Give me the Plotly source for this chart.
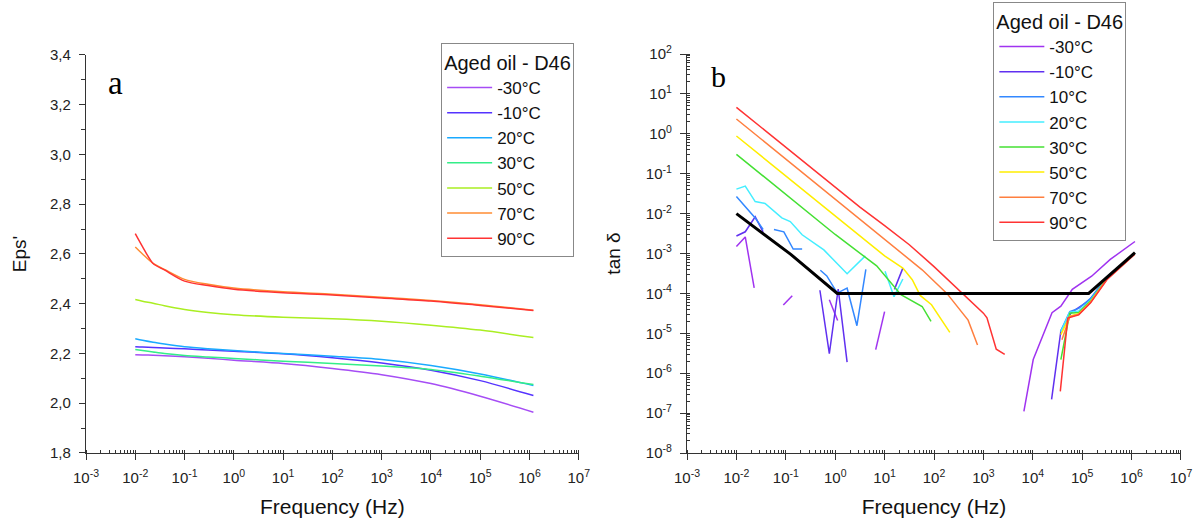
import plotly.graph_objects as go

# ---------------- Panel a : Eps' ----------------
freq_a = [0.01, 0.014, 0.023, 0.039, 0.1, 0.3, 1, 10, 100, 1e3, 1e4, 1e5, 1.2e6]
eps_m30 = [2.195, 2.194, 2.193, 2.191, 2.187, 2.181, 2.173, 2.160, 2.140, 2.115, 2.079, 2.028, 1.964]
eps_m10 = [2.227, 2.226, 2.224, 2.222, 2.219, 2.214, 2.209, 2.199, 2.183, 2.162, 2.133, 2.091, 2.031]
eps_20 = [2.259, 2.253, 2.245, 2.238, 2.227, 2.219, 2.212, 2.200, 2.189, 2.176, 2.152, 2.118, 2.071]
eps_30 = [2.216, 2.212, 2.206, 2.200, 2.192, 2.186, 2.180, 2.169, 2.160, 2.150, 2.136, 2.109, 2.075]
eps_50 = [2.417, 2.410, 2.402, 2.392, 2.377, 2.365, 2.356, 2.346, 2.340, 2.330, 2.314, 2.294, 2.264]
eps_70 = [2.628, 2.600, 2.562, 2.538, 2.498, 2.478, 2.463, 2.448, 2.438, 2.426, 2.413, 2.396, 2.374]
eps_90 = [2.682, 2.630, 2.562, 2.536, 2.491, 2.473, 2.458, 2.444, 2.435, 2.423, 2.411, 2.393, 2.373]
labels_a = ["-30°C", "-10°C", "20°C", "30°C", "50°C", "70°C", "90°C"]
colors_a = ["#A64DF5", "#5533FF", "#1AAAFF", "#33EE88", "#AAEE22", "#FF8C33", "#FF3333"]
series_a = [eps_m30, eps_m10, eps_20, eps_30, eps_50, eps_70, eps_90]

# ---------------- Panel b : tan delta ----------------
# None separates the broken pieces of a curve
f_m30 = [0.01, 0.0151, 0.0229, None, 0.089, 0.135, None, 0.76, 1.12, None, 6.6, 10.0, None,
         6600, 10200, 24500, 37000, 63000, 1.55e5, 3.7e5, 1.17e6]
t_m30 = [1.5e-3, 2.6e-3, 1.38e-4, None, 5.1e-5, 8.7e-5, None, 6.9e-5, 2.1e-5, None, 3.9e-6, 3.5e-5, None,
         1.1e-7, 2.2e-6, 3.3e-5, 4.8e-5, 1.26e-4, 2.7e-4, 7.1e-4, 2.0e-3]
f_m10 = [0.01, 0.0151, 0.024, 0.0347, None, 0.49, 0.76, 1.15, 1.74, None, 15.8, 23.4, None,
         24000, 37000, 60000, 1.35e5, 3.16e5, 1.15e6]
t_m10 = [2.75e-3, 3.5e-3, 8.3e-3, 3.5e-3, None, 1.2e-4, 3.1e-6, 1.29e-4, 1.9e-6, None, 1.26e-4, 4.3e-4, None,
         2.2e-7, 1.15e-5, 3.3e-5, 6.5e-5, 2.4e-4, 1.0e-3]
f_10 = [0.01, 0.024, 0.0347, None, 0.0575, 0.0912, 0.141, 0.214, None, 0.50, 0.676, 1.10, 1.74, 2.75, 4.17, None,
        36300, 56000, 85000, 1.48e5, 3.16e5, 1.15e6]
t_10 = [0.027, 7.8e-3, 4.0e-3, None, 4.0e-3, 3.5e-3, 1.29e-3, 1.29e-3, None, 3.8e-4, 2.75e-4, 1.02e-4, 1.35e-4, 1.55e-5, 4.0e-4, None,
        1.1e-5, 3.5e-5, 4.2e-5, 7.5e-5, 2.6e-4, 1.0e-3]
f_20 = [0.01, 0.0151, 0.024, 0.038, 0.083, 0.123, 0.214, 0.589, 1.74, 4.07, None, 10.2, 15.5, 23.4, None,
        37000, 56000, 85000, 1.48e5, 3.16e5, 1.15e6]
t_20 = [0.041, 0.049, 0.020, 0.018, 7.8e-3, 6.3e-3, 2.95e-3, 1.23e-3, 3.1e-4, 8.7e-4, None, 3.6e-4, 8.3e-5, 2.3e-4, None,
        1.1e-5, 3.4e-5, 3.6e-5, 6.8e-5, 2.4e-4, 1.0e-3]
f_30 = [0.01, 0.1, 1, 6.9, 21.4, 57.5, 87, None, 37000, 56000, 85000, 1.48e5, 3.16e5, 1.15e6]
t_30 = [0.306, 0.030, 3.0e-3, 4.9e-4, 9.3e-5, 4.7e-5, 2.0e-5, None, 2.2e-6, 3.2e-5, 3.3e-5, 6.5e-5, 2.4e-4, 1.0e-3]
f_50 = [0.01, 0.1, 1, 10, 23.4, 36.3, 52.5, 89, 209, None, 37000, 56000, 85000, 1.48e5, 3.16e5, 1.15e6]
t_50 = [0.88, 0.089, 8.9e-3, 8.7e-4, 4.3e-4, 2.2e-4, 8.9e-5, 5.2e-5, 1.05e-5, None, 9.3e-6, 2.7e-5, 3.1e-5, 6.2e-5, 2.3e-4, 9.8e-4]
f_70 = [0.01, 0.1, 1, 10, 57.5, 182, 490, 760, None, 38900, 56000, 85000, 1.48e5, 3.16e5, 1.15e6]
t_70 = [2.35, 0.234, 0.0234, 2.3e-3, 3.9e-4, 1.0e-4, 2.14e-5, 5.1e-6, None, 6.9e-6, 2.6e-5, 3.0e-5, 6.0e-5, 2.3e-4, 9.8e-4]
f_90 = [0.01, 0.0316, 0.1, 0.316, 1, 3.16, 10, 31.6, 100, 316, 1000, 1180, 1820, 2700, None,
        36000, 51000, 85000, 1.48e5, 3.16e5, 1.15e6]
t_90 = [4.6, 1.45, 0.47, 0.148, 0.047, 0.0145, 5.0e-3, 1.66e-3, 4.7e-4, 1.26e-4, 3.2e-5, 2.45e-5, 4.0e-6, 2.95e-6, None,
        3.5e-7, 2.4e-5, 2.9e-5, 5.8e-5, 2.2e-4, 9.5e-4]
f_ref = [0.01, 0.126, 1.1, 1.35e5, 1.17e6]
t_ref = [1e-2, 9.5e-4, 1e-4, 1e-4, 1.05e-3]

labels_b = ["-30°C", "-10°C", "10°C", "20°C", "30°C", "50°C", "70°C", "90°C"]
colors_b = ["#A033F0", "#6030F0", "#3388FF", "#44EEFF", "#44E033", "#FFEE00", "#FF7F3F", "#FF3333"]
series_b = [(f_m30, t_m30), (f_m10, t_m10), (f_10, t_10), (f_20, t_20),
            (f_30, t_30), (f_50, t_50), (f_70, t_70), (f_90, t_90)]

x_ticks = [1e-3, 1e-2, 1e-1, 1e0, 1e1, 1e2, 1e3, 1e4, 1e5, 1e6, 1e7]
x_ticktext = ["10<sup>-3</sup>", "10<sup>-2</sup>", "10<sup>-1</sup>", "10<sup>0</sup>", "10<sup>1</sup>",
              "10<sup>2</sup>", "10<sup>3</sup>", "10<sup>4</sup>", "10<sup>5</sup>", "10<sup>6</sup>", "10<sup>7</sup>"]
ya_ticks = [1.8, 2.0, 2.2, 2.4, 2.6, 2.8, 3.0, 3.2, 3.4]
ya_ticktext = ["1,8", "2,0", "2,2", "2,4", "2,6", "2,8", "3,0", "3,2", "3,4"]
yb_ticks = [1e-8, 1e-7, 1e-6, 1e-5, 1e-4, 1e-3, 1e-2, 1e-1, 1e0, 1e1, 1e2]
yb_ticktext = ["10<sup>-8</sup>", "10<sup>-7</sup>", "10<sup>-6</sup>", "10<sup>-5</sup>", "10<sup>-4</sup>",
               "10<sup>-3</sup>", "10<sup>-2</sup>", "10<sup>-1</sup>", "10<sup>0</sup>", "10<sup>1</sup>", "10<sup>2</sup>"]

FONT = "Liberation Sans, Arial, sans-serif"
SERIF = "Liberation Serif, Times New Roman, serif"
W, H = 1197, 519
ML, MR, MT, MB = 86, 16.4, 54, 65.7
PW, PH = W - ML - MR, H - MT - MB


def px_x(p):
    return (p - ML) / PW


def px_y(p):
    return (H - MB - p) / PH


fig = go.Figure()
for name, col, ys in zip(labels_a, colors_a, series_a):
    fig.add_trace(go.Scatter(x=freq_a, y=ys, mode="lines", name=name,
                             line=dict(color=col, width=1.5, shape="spline", smoothing=0.8),
                             xaxis="x", yaxis="y", legend="legend"))

for name, col, (fx, ty) in zip(labels_b, colors_b, series_b):
    fig.add_trace(go.Scatter(x=fx, y=ty, mode="lines", name=name, connectgaps=False,
                             line=dict(color=col, width=1.5),
                             xaxis="x2", yaxis="y2", legend="legend2"))
fig.add_trace(go.Scatter(x=f_ref, y=t_ref, mode="lines", showlegend=False,
                         line=dict(color="#000000", width=3), xaxis="x2", yaxis="y2"))

axis_common = dict(showline=True, linecolor="#333333", linewidth=1.3, showgrid=False, zeroline=False,
                   ticks="outside", ticklen=6, tickcolor="#333333", ticklabelstandoff=5,
                   tickfont=dict(family=FONT, size=15, color="#222222"))
title_font = dict(family=FONT, size=21, color="#111111")
ytitle_font = dict(family=FONT, size=19, color="#111111")
legend_common = dict(xanchor="left", yanchor="top", bordercolor="#888888", borderwidth=1, bgcolor="white",
                     title=dict(text="Aged oil - D46", font=dict(family=FONT, size=20, color="#111111")),
                     font=dict(family=FONT, size=17, color="#111111"), itemwidth=45)

fig.update_layout(
    width=W, height=H, margin=dict(l=ML, r=MR, t=MT, b=MB, autoexpand=False),
    paper_bgcolor="white", plot_bgcolor="white",
    font=dict(family=FONT, color="#222222"),
    xaxis=dict(type="log", range=[-3, 7], domain=[0, px_x(578.6)], anchor="y",
               tickmode="array", tickvals=x_ticks, ticktext=x_ticktext,
               minor=dict(dtick="D1", ticks="inside", ticklen=3, tickcolor="#333333", showgrid=False),
               title=dict(text="Frequency (Hz)", font=title_font, standoff=14),
               **axis_common),
    yaxis=dict(range=[1.8, 3.4], domain=[0, px_y(55)], anchor="x",
               tickmode="array", tickvals=ya_ticks, ticktext=ya_ticktext,
               minor=dict(dtick=0.1, ticks="outside", ticklen=4, tickcolor="#333333", showgrid=False),
               title=dict(text="Eps'", font=ytitle_font, standoff=18),
               **axis_common),
    xaxis2=dict(type="log", range=[-3, 7], domain=[px_x(686.8), 1], anchor="y2",
                tickmode="array", tickvals=x_ticks, ticktext=x_ticktext,
                minor=dict(dtick="D1", ticks="inside", ticklen=3, tickcolor="#333333", showgrid=False),
                title=dict(text="Frequency (Hz)", font=title_font, standoff=14),
                **axis_common),
    yaxis2=dict(type="log", range=[-8, 2], domain=[0, 1], anchor="x2",
                tickmode="array", tickvals=yb_ticks, ticktext=yb_ticktext,
                minor=dict(dtick="D1", ticks="inside", ticklen=3, tickcolor="#333333", showgrid=False),
                title=dict(text="tan δ", font=ytitle_font, standoff=20),
                **axis_common),
    legend=dict(x=px_x(441), y=px_y(43), **legend_common),
    legend2=dict(x=px_x(993), y=px_y(2), **legend_common),
    annotations=[
        dict(text="a", x=px_x(115), y=px_y(83), xref="paper", yref="paper", showarrow=False,
             xanchor="center", yanchor="middle",
             font=dict(family=SERIF, size=33, color="#000000")),
        dict(text="b", x=px_x(718), y=px_y(77), xref="paper", yref="paper", showarrow=False,
             xanchor="center", yanchor="middle",
             font=dict(family=SERIF, size=30, color="#000000")),
    ],
)

fig.write_html("out.html", config={"displayModeBar": False},
               post_script="document.body.style.margin='0px';document.body.style.padding='0px';")
